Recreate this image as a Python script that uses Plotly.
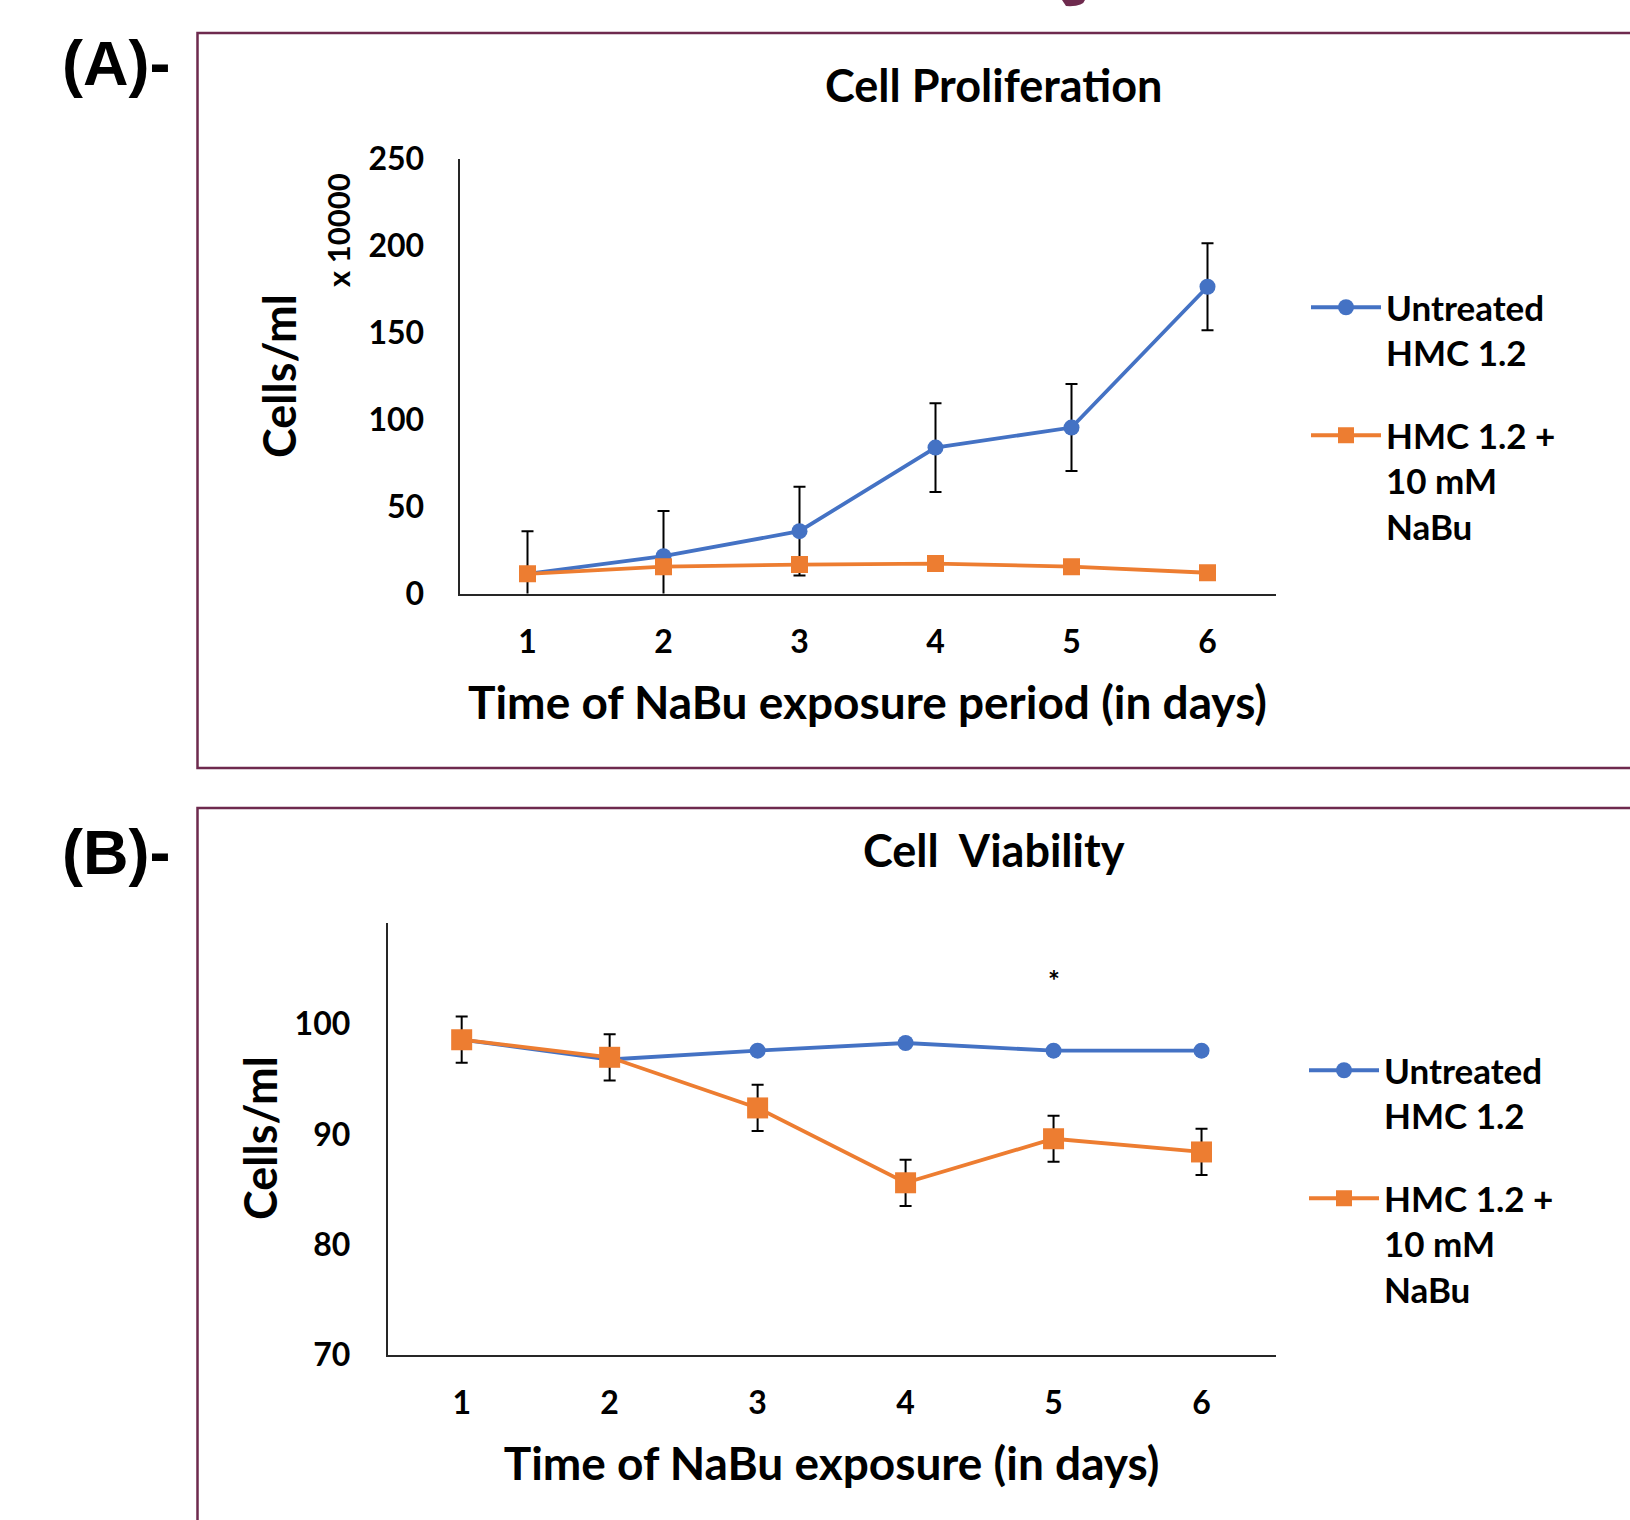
import plotly.graph_objects as go

W, H = 1630, 1520

days = [1, 2, 3, 4, 5, 6]
day_labels = ["1", "2", "3", "4", "5", "6"]

# Panel A: Cell proliferation (cells/ml x 10000)
prolif_untreated = [11.4, 21.5, 35.9, 84.0, 95.5, 176.5]
prolif_untreated_err = [24.5, 26.0, 25.5, 25.5, 25.0, 25.0]
prolif_nabu = [11.4, 15.5, 16.7, 17.3, 15.5, 12.0]
prolif_nabu_err = [1.5, 1.5, 1.5, 1.5, 1.5, 1.5]
prolif_yticks = [0, 50, 100, 150, 200, 250]

# Panel B: Cell viability
viab_untreated = [98.6, 96.8, 97.6, 98.3, 97.6, 97.6]
viab_nabu = [98.6, 97.0, 92.4, 85.6, 89.6, 88.4]
viab_nabu_err = [2.1, 2.1, 2.1, 2.1, 2.1, 2.1]
viab_yticks = [70, 80, 90, 100]

names = ["Untreated<br>HMC 1.2", "HMC 1.2 +<br>10 mM<br>NaBu"]
BLUE = "#4472C4"
ORANGE = "#ED7D31"
MAROON = "#6E2A4E"
FONT = "Lato"

def px_x(p):
    return p / W

def px_y(p):
    return 1 - p / H

fig = go.Figure()

err_style = dict(type="data", color="black", thickness=2, width=6)

fig.add_trace(go.Scatter(
    x=days, y=prolif_untreated, name=names[0], mode="lines+markers",
    line=dict(color=BLUE, width=3.8), marker=dict(symbol="circle", size=16, color=BLUE),
    error_y=dict(array=prolif_untreated_err, **err_style),
    xaxis="x", yaxis="y", legend="legend", legendgroup="a"))
fig.add_trace(go.Scatter(
    x=days, y=prolif_nabu, name=names[1], mode="lines+markers",
    line=dict(color=ORANGE, width=3.8), marker=dict(symbol="square", size=17, color=ORANGE),
    error_y=dict(array=prolif_nabu_err, **err_style),
    xaxis="x", yaxis="y", legend="legend", legendgroup="b"))

fig.add_trace(go.Scatter(
    x=days, y=viab_untreated, name=names[0], mode="lines+markers",
    line=dict(color=BLUE, width=3.8), marker=dict(symbol="circle", size=16, color=BLUE),
    xaxis="x2", yaxis="y2", legend="legend2", legendgroup="c"))
fig.add_trace(go.Scatter(
    x=days, y=viab_nabu, name=names[1], mode="lines+markers",
    line=dict(color=ORANGE, width=3.8), marker=dict(symbol="square", size=21, color=ORANGE),
    error_y=dict(array=viab_nabu_err, **err_style),
    xaxis="x2", yaxis="y2", legend="legend2", legendgroup="d"))

axis_common = dict(showgrid=False, zeroline=False, showline=True, linecolor="#262626",
                   linewidth=2, ticks="", tickfont=dict(family=FONT, size=32, color="black",
                   weight="bold"))

# Panel A plot area (pixels)
axA_x = [459.5, 1275.5]
axA_y = [159, 593.6]
# Panel B plot area (pixels)
axB_x = [387.7, 1275.5]
axB_y = [923, 1354.5]

legend_common = dict(xanchor="left", yanchor="top",
                     font=dict(family=FONT, size=35, weight="bold", color="black"),
                     tracegroupgap=34, valign="top", bgcolor="rgba(0,0,0,0)",
                     itemwidth=70, traceorder="grouped")

fig.update_layout(
    width=W, height=H, margin=dict(l=0, r=0, t=0, b=0, autoexpand=False),
    paper_bgcolor="white", plot_bgcolor="white",
    font=dict(family=FONT, color="black"),
    xaxis=dict(domain=[px_x(axA_x[0]), px_x(axA_x[1])], range=[0.5, 6.5],
               tickvals=days, ticktext=day_labels, anchor="y", ticklabelstandoff=19,
               automargin=False,
               title=dict(text="Time of NaBu exposure period (in days)",
                          font=dict(family=FONT, size=46, weight="bold"), standoff=28),
               **axis_common),
    yaxis=dict(domain=[px_y(axA_y[1]), px_y(axA_y[0])], range=[0, 250], automargin=False,
               tickvals=prolif_yticks, anchor="x", ticklabelstandoff=27, **axis_common),
    xaxis2=dict(domain=[px_x(axB_x[0]), px_x(axB_x[1])], range=[0.5, 6.5],
                tickvals=days, ticktext=day_labels, anchor="y2", ticklabelstandoff=19,
                automargin=False,
                title=dict(text="Time of NaBu exposure (in days)",
                           font=dict(family=FONT, size=46, weight="bold"), standoff=28),
                **axis_common),
    yaxis2=dict(domain=[px_y(axB_y[1]), px_y(axB_y[0])], range=[70, 109.2], automargin=False,
                tickvals=viab_yticks, anchor="x2", ticklabelstandoff=29, **axis_common),
    legend=dict(x=px_x(1306), y=px_y(278), **legend_common),
    legend2=dict(x=px_x(1304), y=px_y(1041), **legend_common),
    showlegend=True,
)

ann_font = dict(family=FONT, color="black", weight="bold")
annotations = [
    dict(text="Cell Proliferation", x=px_x(993), y=px_y(85), font=dict(size=45, **ann_font)),
    dict(text="Cell  Viability", x=px_x(994), y=px_y(850), font=dict(size=45, **ann_font)),
    dict(text="Cells/ml", x=px_x(279), y=px_y(376), textangle=-90, font=dict(size=45, **ann_font)),
    dict(text="Cells/ml", x=px_x(260), y=px_y(1138), textangle=-90, font=dict(size=45, **ann_font)),
    dict(text="x 10000", x=px_x(338), y=px_y(230), textangle=-90, font=dict(size=31, **ann_font)),
    dict(text="(A)-", x=px_x(60), y=px_y(63), xanchor="left",
         font=dict(family="Liberation Sans", size=63, color="black", weight="bold")),
    dict(text="(B)-", x=px_x(60), y=px_y(852), xanchor="left",
         font=dict(family="Liberation Sans", size=63, color="black", weight="bold")),
    dict(text="*", x=5, y=104, xref="x2", yref="y2", showarrow=False,
         font=dict(family=FONT, size=28, color="black", weight="bold")),
]
for a in annotations:
    a.setdefault("xref", "paper")
    a.setdefault("yref", "paper")
    a.setdefault("showarrow", False)
    a.setdefault("xanchor", "center")
    a.setdefault("yanchor", "middle")
fig.update_layout(annotations=annotations)

shapes = [
    dict(type="rect", xref="paper", yref="paper", x0=px_x(197.5), x1=px_x(1640),
         y0=px_y(768), y1=px_y(33), line=dict(color=MAROON, width=2.5)),
    dict(type="rect", xref="paper", yref="paper", x0=px_x(197.5), x1=px_x(1640),
         y0=px_y(1540), y1=px_y(808), line=dict(color=MAROON, width=2.5)),
    dict(type="path", xref="paper", yref="paper",
         path=f"M {px_x(1062)} {px_y(0)} L {px_x(1085)} {px_y(0)} Q {px_x(1083)} {px_y(7)} {px_x(1066)} {px_y(6)} Z",
         fillcolor=MAROON, line=dict(width=0)),
]
fig.update_layout(shapes=shapes)

fig.write_html("out.html", config={"displayModeBar": False},
               post_script="document.body.style.margin='0px';")
